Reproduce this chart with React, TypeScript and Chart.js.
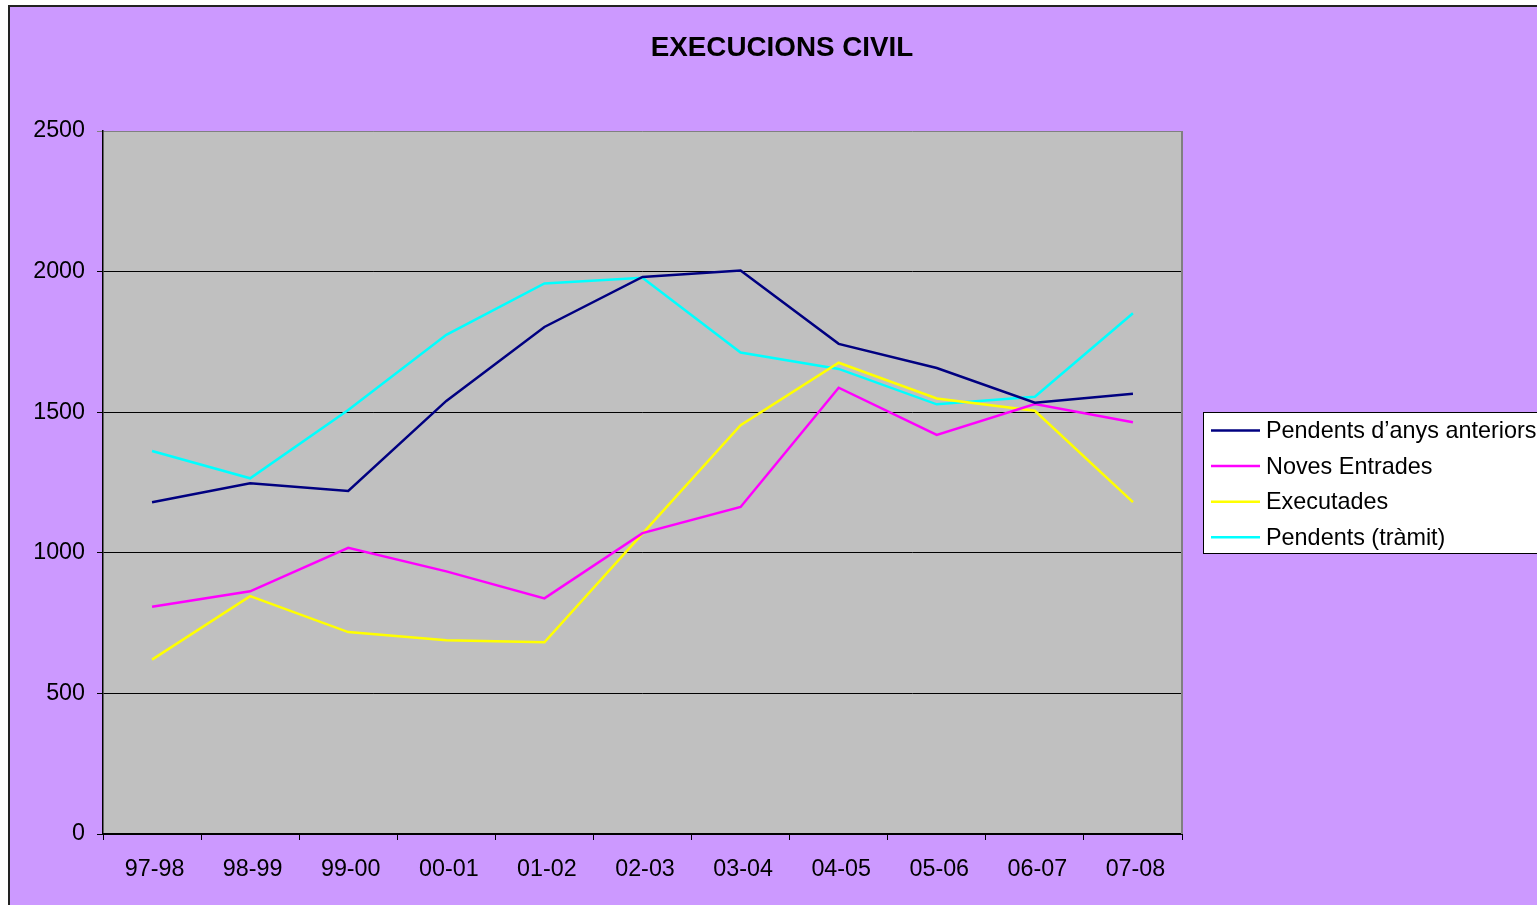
import React, { useEffect, useRef } from "react";
import { Chart, registerables } from "chart.js";

Chart.register(...registerables);

const categories = ["97-98", "98-99", "99-00", "00-01", "01-02", "02-03", "03-04", "04-05", "05-06", "06-07", "07-08"];
const pendentsAnteriors = [1180, 1247, 1220, 1540, 1803, 1981, 2004, 1743, 1657, 1534, 1566];
const novesEntrades = [808, 863, 1018, 934, 838, 1070, 1163, 1587, 1419, 1529, 1464];
const executades = [620, 846, 718, 689, 682, 1068, 1454, 1676, 1549, 1505, 1180];
const pendentsTramit = [1362, 1265, 1508, 1775, 1958, 1978, 1712, 1654, 1528, 1555, 1852];
const seriesNames = ["Pendents d\u2019anys anteriors", "Noves Entrades", "Executades", "Pendents (tr\u00e0mit)"];
const seriesColors = ["#000080", "#FF00FF", "#FFFF00", "#00FFFF"];
const titleText = "EXECUCIONS CIVIL";

const FONT = "'Liberation Sans', Arial, sans-serif";

const decorPlugin = {
  id: "decor",
  beforeDraw(chart: any) {
    const { ctx, chartArea } = chart;
    ctx.save();
    ctx.fillStyle = "#C0C0C0";
    ctx.fillRect(chartArea.left, chartArea.top, chartArea.right - chartArea.left, chartArea.bottom - chartArea.top);
    ctx.restore();
  },
  afterDraw(chart: any) {
    const { ctx, chartArea } = chart;
    ctx.save();
    // right border of plot area
    ctx.strokeStyle = "#808080";
    ctx.lineWidth = 2;
    ctx.beginPath();
    ctx.moveTo(chartArea.right, chartArea.top);
    ctx.lineTo(chartArea.right, chartArea.bottom);
    ctx.stroke();

    // title
    ctx.fillStyle = "#000";
    ctx.font = `bold 27.8px ${FONT}`;
    ctx.textAlign = "center";
    ctx.textBaseline = "middle";
    ctx.fillText(titleText, 772, 41);

    // legend
    const lx = chartArea.right + 21;
    const ly = chartArea.top + 281;
    ctx.fillStyle = "#FFFFFF";
    ctx.fillRect(lx, ly, 400, 141);
    ctx.strokeStyle = "#000";
    ctx.lineWidth = 1;
    ctx.strokeRect(lx + 0.5, ly + 0.5, 400, 141);
    ctx.font = `23.4px ${FONT}`;
    ctx.textAlign = "left";
    ctx.textBaseline = "middle";
    chart.data.datasets.forEach((ds: any, i: number) => {
      const y = ly + 18.5 + i * 35.6;
      ctx.strokeStyle = ds.borderColor;
      ctx.lineWidth = 2.5;
      ctx.beginPath();
      ctx.moveTo(lx + 8, y);
      ctx.lineTo(lx + 57, y);
      ctx.stroke();
      ctx.fillStyle = "#000";
      ctx.fillText(ds.label, lx + 63, y + 1);
    });
    ctx.restore();
  },
};

export default function App() {
  const ref = useRef<HTMLCanvasElement>(null);
  useEffect(() => {
    if (!ref.current) return;
    const data = [pendentsAnteriors, novesEntrades, executades, pendentsTramit];
    const chart = new Chart(ref.current, {
      type: "line",
      data: {
        labels: categories,
        datasets: data.map((d, i) => ({
          label: seriesNames[i],
          data: d,
          borderColor: seriesColors[i],
          backgroundColor: seriesColors[i],
          borderWidth: 2.5,
          pointRadius: 0,
          tension: 0,
          fill: false,
        })),
      },
      options: {
        responsive: false,
        animation: false,
        layout: { padding: { left: 10, top: 124, right: 374, bottom: 53 } },
        plugins: { legend: { display: false }, title: { display: false }, tooltip: { enabled: false } },
        scales: {
          x: {
            offset: true,
            grid: { offset: true, drawOnChartArea: false, tickLength: 6, color: "#000", lineWidth: 1 },
            border: { color: "#000", width: 2 },
            ticks: {
              color: "#000",
              font: { family: FONT, size: 23.3 },
              padding: 16,
              labelOffset: 2.5,
              maxRotation: 0,
              autoSkip: false,
            },
            afterFit: (s: any) => { s.height = 60; },
          },
          y: {
            min: 0,
            max: 2500,
            grid: {
              color: (c: any) => (c.tick && c.tick.value === 2500 ? "#808080" : "#000"),
              lineWidth: 1,
              tickLength: 6,
            },
            border: { color: "#000", width: 1.5 },
            ticks: {
              stepSize: 500,
              color: "#000",
              font: { family: FONT, size: 23.3 },
              padding: 12,
              callback: (v: any) => String(v),
            },
            afterFit: (s: any) => { s.width = 83; },
          },
        },
      },
      plugins: [decorPlugin],
    } as any);
    return () => chart.destroy();
  }, []);

  return (
    <div style={{ position: "fixed", inset: 0, overflow: "hidden", background: "#fff" }}>
      <div
        style={{
          position: "absolute",
          left: 8,
          top: 5,
          width: 1546,
          height: 940,
          border: "2px solid #222",
          background: "#CC99FF",
        }}
      >
        <canvas ref={ref} width={1546} height={940} style={{ display: "block" }} />
      </div>
    </div>
  );
}
